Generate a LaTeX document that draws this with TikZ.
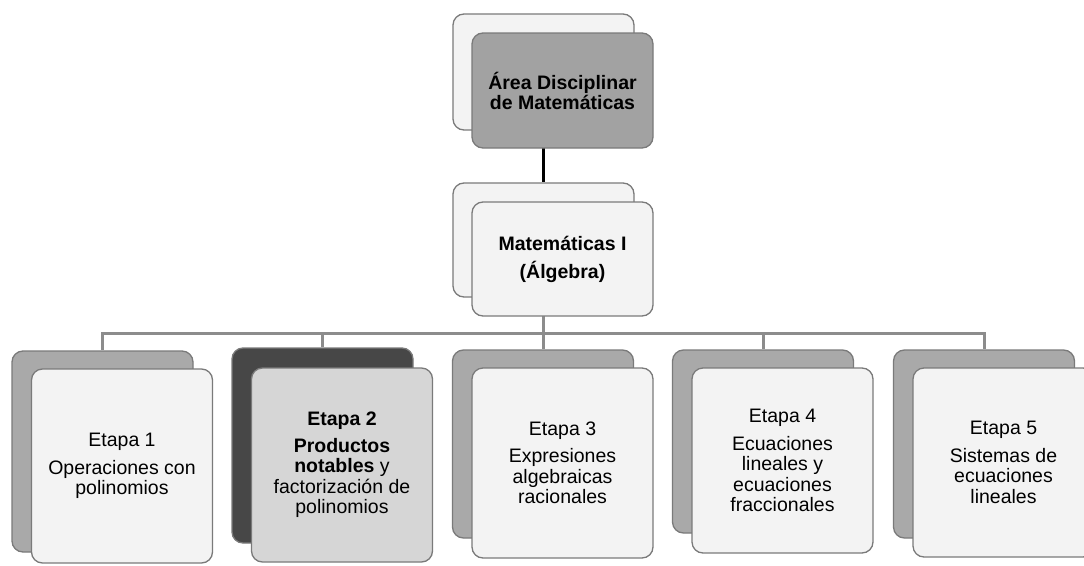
\documentclass[tikz,border=0pt]{standalone}
\usepackage{fontspec}
\setmainfont{Liberation Sans}
\definecolor{lightfill}{HTML}{F3F3F3}
\definecolor{backgray}{HTML}{A9A9A9}
\definecolor{topgray}{HTML}{A2A2A2}
\definecolor{darkback}{HTML}{474747}
\definecolor{midfill}{HTML}{D6D6D6}
\definecolor{boxline}{HTML}{7A7A7A}
\definecolor{busgray}{HTML}{8C8C8C}
\begin{document}
\begin{tikzpicture}[x=1pt,y=-1pt,
  box/.style={draw=boxline, line width=1.3pt, rounded corners=11pt,
    minimum width=181pt, inner sep=0pt, align=center,
    font=\fontsize{19.5}{20.5}\selectfont},
  backbox/.style={box, fill=backgray},
  lightbox/.style={box, fill=lightfill},
  bus/.style={draw=busgray, line width=3pt},
  topline/.style={draw=black, line width=3.5pt}
]
\useasboundingbox (0,0) rectangle (1084,565);

% back boxes
\node[lightbox, minimum height=116pt] (tb) at (543.5,72) {};
\node[lightbox, minimum height=114pt] (mb) at (543.5,240) {};
\node[backbox, minimum height=201pt] (b1) at (102.5,451.5) {};
\node[backbox, fill=darkback, minimum height=195pt] (b2) at (322.5,445.5) {};
\node[backbox, minimum height=188pt] (b3) at (543,444) {};
\node[backbox, minimum height=183pt] (b4) at (763,441.5) {};
\node[backbox, minimum height=188pt] (b5) at (984,444) {};

% connectors
\draw[topline] (tb.south) -- (mb.north);
\coordinate (busc) at (543.5,333);
\draw[bus] (mb.south) -- (busc);
\draw[bus] (busc) -| (b1.north);
\draw[bus] (busc) -| (b2.north);
\draw[bus] (busc) -| (b3.north);
\draw[bus] (busc) -| (b4.north);
\draw[bus] (busc) -| (b5.north);

% front boxes
\node[box, fill=topgray, minimum height=115pt,
  font=\fontsize{19.5}{20}\selectfont\bfseries] (tf) at (562.5,90.5)
  {Área Disciplinar\\de Matemáticas};
\node[lightbox, minimum height=114pt, font=\fontsize{19.5}{20.5}\selectfont\bfseries] (mf) at (562.5,259)
  {Matemáticas I\\[7.5pt](Álgebra)};
\node[lightbox, minimum height=194pt] (f1) at (122,466)
  {Etapa 1\\[7pt]Operaciones con\\polinomios};
\node[box, fill=midfill, minimum height=194pt] (f2) at (342,465)
  {\textbf{Etapa 2}\\[6pt]\textbf{Productos}\\\textbf{notables} y\\factorización de\\polinomios};
\node[lightbox, minimum height=190pt] (f3) at (562.5,463)
  {Etapa 3\\[7pt]Expresiones\\algebraicas\\racionales};
\node[lightbox, minimum height=185pt] (f4) at (782.5,460.5)
  {Etapa 4\\[7pt]Ecuaciones\\lineales y\\ecuaciones\\fraccionales};
\node[lightbox, minimum height=189pt] (f5) at (1003.5,462.5)
  {Etapa 5\\[7pt]Sistemas de\\ecuaciones\\lineales};
\end{tikzpicture}
\end{document}
